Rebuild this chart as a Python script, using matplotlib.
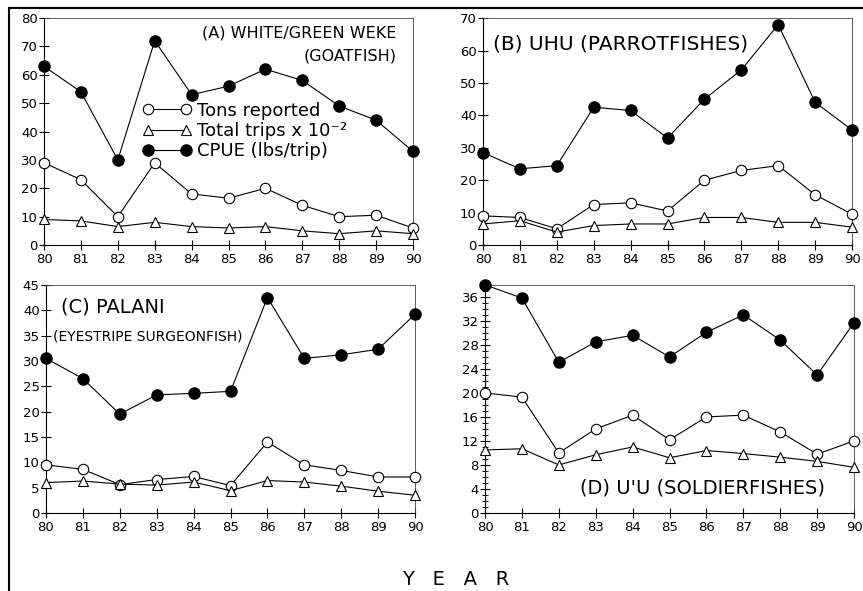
import matplotlib
matplotlib.use("Agg")
import matplotlib.pyplot as plt
from matplotlib.ticker import MultipleLocator
from matplotlib.lines import Line2D

years = [80, 81, 82, 83, 84, 85, 86, 87, 88, 89, 90]

# (A) white/green weke
a_cpue = [63, 54, 30, 72, 53, 56, 62, 58, 49, 44, 33]
a_tons = [29, 23, 10, 29, 18, 16.5, 20, 14, 10, 10.5, 6]
a_trips = [9, 8.5, 6.5, 8, 6.5, 6, 6.5, 5, 4, 5, 4]

# (B) uhu
b_cpue = [28.5, 23.5, 24.5, 42.5, 41.5, 33, 45, 54, 68, 44, 35.5]
b_tons = [9, 8.5, 5, 12.5, 13, 10.5, 20, 23, 24.5, 15.5, 9.5]
b_trips = [6.5, 7.5, 4, 6, 6.5, 6.5, 8.5, 8.5, 7, 7, 5.5]

# (C) palani
c_cpue = [30.5, 26.5, 19.5, 23.3, 23.6, 24, 42.5, 30.5, 31.2, 32.3, 39.2]
c_tons = [9.5, 8.6, 5.6, 6.6, 7.2, 5.4, 14, 9.5, 8.4, 7.1, 7.1]
c_trips = [6, 6.3, 5.7, 5.5, 6.1, 4.4, 6.4, 6.1, 5.3, 4.3, 3.5]

# (D) u'u
d_cpue = [38, 35.8, 25.1, 28.5, 29.6, 26, 30.1, 33, 28.8, 23, 31.7]
d_tons = [20, 19.3, 10, 14, 16.3, 12.2, 16, 16.3, 13.5, 9.8, 12]
d_trips = [10.5, 10.7, 8, 9.7, 11, 9.2, 10.4, 9.9, 9.3, 8.6, 7.6]

plt.rcParams['font.family'] = ['DejaVu Sans']

fig = plt.figure(figsize=(8.63, 5.91), dpi=100)

W = 0.4276
H = 0.384
axA = fig.add_axes([0.051, 0.5854, W, H])
axB = fig.add_axes([0.5597, 0.5854, W, H])
axC = fig.add_axes([0.0533, 0.132, W, 0.386])
axD = fig.add_axes([0.562, 0.132, W, 0.386])


def draw(ax, cpue, tons, trips, ymax, ystep, minor=None):
    ax.plot(years, tons, color="black", lw=0.8, marker="o", ms=7.5,
            mfc="white", mec="black", mew=0.8, clip_on=False, zorder=3)
    ax.plot(years, trips, color="black", lw=0.8, marker="^", ms=6.5,
            mfc="white", mec="black", mew=0.8, clip_on=False, zorder=3)
    ax.plot(years, cpue, color="black", lw=0.8, marker="o", ms=8,
            mfc="black", mec="black", clip_on=False, zorder=4)
    ax.set_xlim(80, 90)
    ax.set_ylim(0, ymax)
    ax.xaxis.set_major_locator(MultipleLocator(1))
    ax.yaxis.set_major_locator(MultipleLocator(ystep))
    if minor:
        ax.yaxis.set_minor_locator(MultipleLocator(minor))
        ax.tick_params(axis="y", which="minor", direction="inout", length=4, width=0.7)
    ax.tick_params(axis="both", which="major", direction="inout", length=7,
                   width=0.8, labelsize=9.5, pad=2)
    ax.tick_params(axis="y", pad=1)
    for s in ax.spines.values():
        s.set_linewidth(0.8)
    for s in ("top", "right"):
        ax.spines[s].set_linewidth(0.6)
        ax.spines[s].set_color("#444444")


draw(axA, a_cpue, a_tons, a_trips, 80, 10)
draw(axB, b_cpue, b_tons, b_trips, 70, 10)
draw(axC, c_cpue, c_tons, c_trips, 45, 5)
draw(axD, d_cpue, d_tons, d_trips, 38, 4, minor=1)

axA.text(0.955, 0.935, "(A) WHITE/GREEN WEKE", transform=axA.transAxes,
         ha="right", va="center", fontsize=11.5)
axA.text(0.955, 0.835, "(GOATFISH)", transform=axA.transAxes,
         ha="right", va="center", fontsize=11.5)
axB.text(0.028, 0.885, "(B) UHU (PARROTFISHES)", transform=axB.transAxes,
         ha="left", va="center", fontsize=14.5)
axC.text(0.04, 0.905, "(C) PALANI", transform=axC.transAxes,
         ha="left", va="center", fontsize=14)
axC.text(0.02, 0.775, "(EYESTRIPE SURGEONFISH)", transform=axC.transAxes,
         ha="left", va="center", fontsize=10)
axD.text(0.92, 0.11, "(D) U'U (SOLDIERFISHES)", transform=axD.transAxes,
         ha="right", va="center", fontsize=14)

handles = [
    Line2D([], [], color="black", lw=0.8, marker="o", ms=7.5, mfc="white", mec="black", mew=0.8),
    Line2D([], [], color="black", lw=0.8, marker="^", ms=6.5, mfc="white", mec="black", mew=0.8),
    Line2D([], [], color="black", lw=0.8, marker="o", ms=8, mfc="black", mec="black"),
]
labels = ["Tons reported", "Total trips x 10\u207b\u00b2", "CPUE (lbs/trip)"]
axA.legend(handles, labels, loc="upper left", bbox_to_anchor=(0.266, 0.632),
           frameon=False, numpoints=2, fontsize=13, handlelength=2.7,
           handletextpad=0.35, labelspacing=0.13, borderpad=0, borderaxespad=0)

fig.text(0.528, 0.0203, "Y   E   A   R", ha="center", va="center", fontsize=14)

# outer frame (left and top)
fig.add_artist(Line2D([0.0105, 0.0105], [0.0, 0.986], color="black", lw=1.5,
                      transform=fig.transFigure))
fig.add_artist(Line2D([0.0105, 1.0], [0.986, 0.986], color="black", lw=1.5,
                      transform=fig.transFigure))

fig.savefig("out.png", dpi=100)
